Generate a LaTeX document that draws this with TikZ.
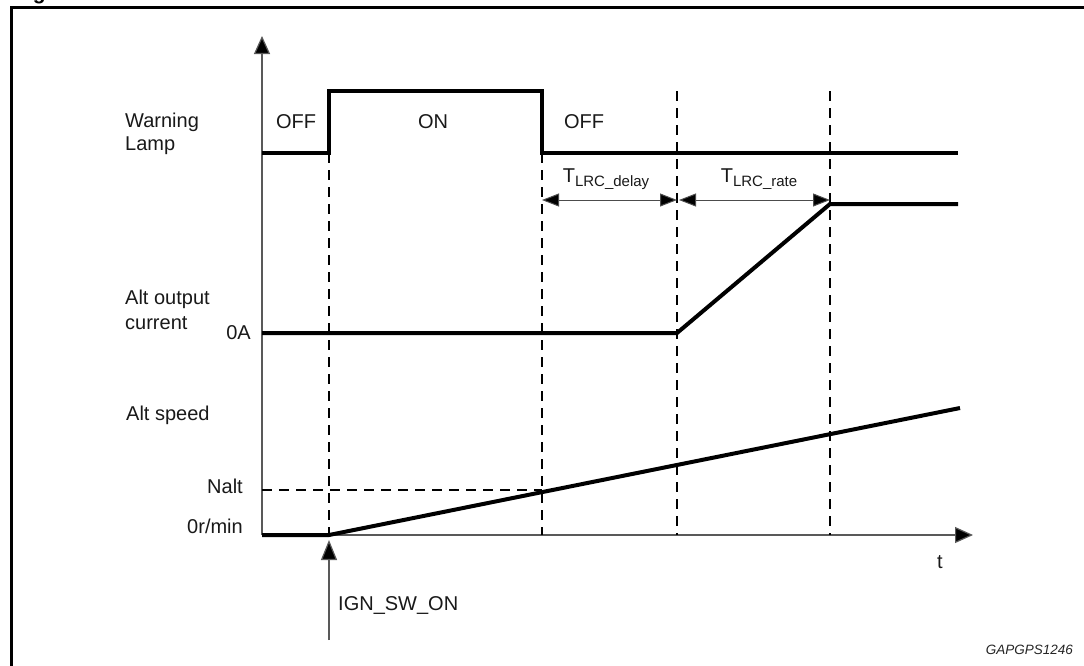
\documentclass[tikz,border=0pt]{standalone}
\usepackage{fontspec}
\setmainfont{Liberation Sans}
\usetikzlibrary{arrows.meta}
\begin{document}
\begin{tikzpicture}[x=1pt,y=-1pt,
  thickline/.style={line width=4pt, line join=miter},
  dashline/.style={line width=1.3pt, dash pattern=on 10pt off 7pt},
  axisline/.style={line width=1.2pt, draw=black!65},
  axtip/.style={-{Triangle[length=18pt,width=16pt,fill=black]}},
  dimline/.style={line width=1pt, draw=black!70, {Triangle[length=17pt,width=13pt,fill=black]}-{Triangle[length=17pt,width=13pt,fill=black]}},
  lbl/.style={font=\fontsize{20}{23}\selectfont, inner sep=0pt, text=black!90}
]
\clip (0,0) rectangle (1084,665);
\fill[white] (0,0) rectangle (1084,665);
% cut-off title and frame
\node[anchor=base west, inner sep=0pt, font=\fontsize{21}{24}\selectfont\bfseries] (title) at (14,-1) {Figure};
\draw[line width=3pt] (11,700) -- (11,7) -- (1100,7);

% axes
\coordinate (O) at (262,535);
\coordinate (Ytop) at (262,36);
\coordinate (Xend) at (973,535);
\draw[axisline, axtip] (O) -- (Ytop);
\draw[axisline, axtip] (O) -- (Xend);

% dashed guide lines
\coordinate (D1t) at (329,153); \coordinate (D1b) at (329,535);
\coordinate (D2t) at (542,153); \coordinate (D2b) at (542,535);
\coordinate (D3t) at (677,91);  \coordinate (D3b) at (677,535);
\coordinate (D4t) at (830,91);  \coordinate (D4b) at (830,535);
\draw[dashline] (D1t) -- (D1b);
\draw[dashline] (D2t) -- (D2b);
\draw[dashline] (D3t) -- (D3b);
\draw[dashline] (D4t) -- (D4b);
\coordinate (N0) at (262,490); \coordinate (N1) at (542,490);
\draw[dashline] (N0) -- (N1);

% warning lamp
\coordinate (L0) at (262,153); \coordinate (L1) at (329,153);
\coordinate (L2) at (329,91);  \coordinate (L3) at (542,91);
\coordinate (L4) at (542,153); \coordinate (L5) at (958,153);
\draw[thickline] (L0) -- (L1) -- (L2) -- (L3) -- (L4) -- (L5);

% alt output current
\coordinate (C0) at (262,333); \coordinate (C1) at (677,333);
\coordinate (C2) at (830,204); \coordinate (C3) at (958,204);
\draw[thickline] (C0) -- (C1) -- (C2) -- (C3);

% alt speed
\coordinate (S0) at (262,535); \coordinate (S1) at (329,535);
\coordinate (S2) at (960,408);
\draw[thickline] (S0) -- (S1) -- (S2);

% time intervals
\coordinate (T0) at (542,200); \coordinate (T1) at (677,200);
\coordinate (T2) at (679,200); \coordinate (T3) at (830,200);
\draw[dimline] (T0) -- (T1);
\draw[dimline] (T2) -- (T3);
\node[lbl, anchor=base] (tdelay) at (606,182) {T\raisebox{-4pt}{\fontsize{15}{17}\selectfont LRC\_delay}};
\node[lbl, anchor=base] (trate) at (759,182) {T\raisebox{-4pt}{\fontsize{15}{17}\selectfont LRC\_rate}};

% IGN_SW_ON arrow
\coordinate (I0) at (329,640); \coordinate (I1) at (329,540);
\draw[axisline, -{Triangle[length=20pt,width=16pt,fill=black]}] (I0) -- (I1);
\node[lbl, anchor=west] (ign) at (338,605) {IGN\_SW\_ON};

% labels
\node[lbl, anchor=west] (warn) at (125,122) {Warning};
\node[lbl, anchor=west] (lamp) at (125,146) {Lamp};
\node[lbl] (off1) at (296,122) {OFF};
\node[lbl] (on) at (433,122) {ON};
\node[lbl] (off2) at (584,122) {OFF};
\node[lbl, anchor=west] (alto) at (125,299) {Alt output};
\node[lbl, anchor=west] (altc) at (125,323) {current};
\node[lbl, anchor=east] (zeroA) at (251,333) {0A};
\node[lbl, anchor=west] (alts) at (126,415) {Alt speed};
\node[lbl, anchor=east] (nalt) at (243,486) {Nalt};
\node[lbl, anchor=east] (zr) at (243,526) {0r/min};
\node[lbl] (t) at (940,562) {t};
\node[inner sep=0pt, anchor=east, font=\fontsize{13.5}{15}\selectfont\itshape, text=black!85] (code) at (1073,650) {GAPGPS1246};
\end{tikzpicture}
\end{document}
